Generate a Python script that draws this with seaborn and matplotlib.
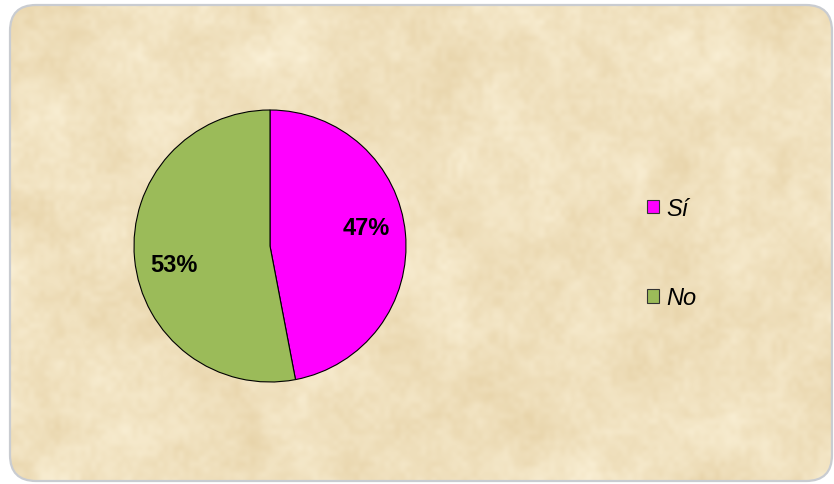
import numpy as np
import matplotlib
matplotlib.use("Agg")
import matplotlib.pyplot as plt
import seaborn as sns
from matplotlib.patches import FancyBboxPatch, Patch

# Survey answers and their shares (percent)
categories = ["Sí", "No"]
shares = [47, 53]
pct_labels = ["47%", "53%"]

sns.set_theme(style="white")
plt.rcParams["font.family"] = ["Liberation Sans", "DejaVu Sans"]

colors = ["#FF00FF", "#9BBB59"]

W, H = 834, 485
fig = plt.figure(figsize=(W / 100, H / 100), dpi=100)
fig.patch.set_facecolor("white")

# Parchment-like panel with rounded corners
bg_ax = fig.add_axes([0, 0, 1, 1])
bg_ax.set_xlim(0, W)
bg_ax.set_ylim(H, 0)
bg_ax.axis("off")


def smooth_noise(rng, ny, nx, out_h, out_w):
    grid = rng.random((ny, nx))
    ys = np.linspace(0, ny - 1, out_h)
    xs = np.linspace(0, nx - 1, out_w)
    rows = np.array([np.interp(xs, np.arange(nx), grid[i]) for i in range(ny)])
    cols = np.array([np.interp(ys, np.arange(ny), rows[:, j]) for j in range(out_w)]).T
    return cols


rng = np.random.default_rng(7)
th, tw = 240, 420
tex = (0.45 * smooth_noise(rng, 10, 18, th, tw)
       + 0.3 * smooth_noise(rng, 30, 52, th, tw)
       + 0.25 * smooth_noise(rng, 90, 160, th, tw))
tex = (tex - tex.min()) / (tex.max() - tex.min())
light = np.array([250, 240, 214]) / 255
dark = np.array([232, 212, 170]) / 255
img = light[None, None, :] * (1 - tex[..., None]) + dark[None, None, :] * tex[..., None]

box = (10, 6, 822, 476)
panel = FancyBboxPatch(box[:2], box[2], box[3],
                       boxstyle="round,pad=0,rounding_size=26",
                       facecolor="none", edgecolor="#C9CCD1", linewidth=1.6,
                       transform=bg_ax.transData, zorder=3)
im = bg_ax.imshow(img, extent=(box[0], box[0] + box[2], box[1] + box[3], box[1]),
                  interpolation="bicubic", aspect="auto", zorder=1)
clip = FancyBboxPatch(box[:2], box[2], box[3],
                      boxstyle="round,pad=0,rounding_size=26",
                      transform=bg_ax.transData, facecolor="none", edgecolor="none")
bg_ax.add_patch(clip)
im.set_clip_path(clip)
bg_ax.add_patch(panel)

# Pie chart
cx, cy, r = 270, 247, 136
ax = fig.add_axes([(cx - r) / W, (H - cy - r) / H, 2 * r / W, 2 * r / H])
ax.set_facecolor("none")
wedges, _ = ax.pie(shares, colors=colors, startangle=90, counterclock=False,
                   wedgeprops=dict(edgecolor="black", linewidth=0.8),
                   radius=1.0)
ax.set_xlim(-1.0, 1.0)
ax.set_ylim(-1.0, 1.0)
ax.set_aspect("equal")
ax.axis("off")

# Percentage labels placed along each wedge's mid-angle
start = 90.0
total = float(sum(shares))
for val, txt in zip(shares, pct_labels):
    span = 360.0 * val / total
    mid = np.deg2rad(start - span / 2)
    x = 0.71 * np.cos(mid)
    y = 0.71 * np.sin(mid)
    y += 0.07 * np.sign(y)
    ax.text(x, y, txt, ha="center", va="center", fontsize=17,
            fontweight="bold", color="black")
    start -= span

handles = [Patch(facecolor=c, edgecolor="#333333", linewidth=0.8) for c in colors]
fig.legend(handles, categories, loc="center left",
           bbox_to_anchor=(642 / W, 1 - 254 / H), frameon=False,
           prop=dict(family="Liberation Sans", style="italic", size=17),
           labelcolor="black",
           handlelength=0.52, handleheight=0.52, handletextpad=0.3,
           labelspacing=2.8, borderpad=0.2, borderaxespad=0)

fig.savefig("out.png", dpi=100, facecolor="white")
